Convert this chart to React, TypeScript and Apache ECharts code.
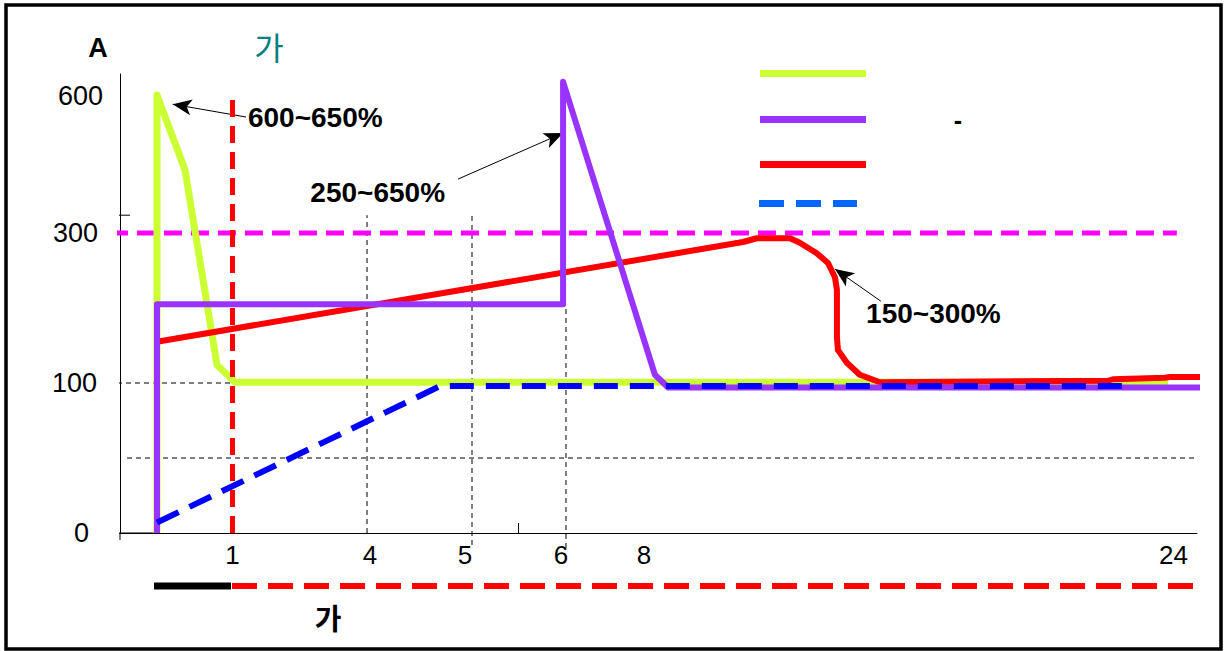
import React, { useEffect, useRef } from "react";
import * as echarts from "echarts";

// ---- scale definition (non-linear schematic axes) ----
const HOUR_KNOTS = [0, 1, 4, 5, 6, 8, 24];
const HOUR_SLOTS = [37, 112.5, 250, 345, 441, 524, 1053.5];
const AMP_KNOTS = [0, 100, 300, 600];
const AMP_SLOTS = [0, 150, 300, 437];
const X_TICK_HOURS = [1, 4, 5, 6, 8, 24];
const Y_TICK_AMPS = [0, 100, 300, 600];
const Y_LABEL_PAD = [14, 6, 5, 0];
const X_MINOR_TICK_HOUR = 5.55;

// ---- series data (hours, amps) ----
const GREEN_HOURS = [0, 0, 0.371, 0.795, 1.055, 23.84];
const GREEN_AMPS = [0, 602, 438, 124, 101, 101];

const RED_HOURS = [0, 0, 10.99, 11.41, 12.41, 12.71, 13.22, 13.56, 13.77, 13.83, 13.83, 13.86, 14.13, 14.52, 15.13, 22.02, 22.17, 23.74, 23.89, 25.59];
const RED_AMPS = [0, 155, 288, 293, 293, 287, 273, 260, 241, 224, 161, 144, 127, 111, 101, 103, 105, 107, 108, 108];

const PURPLE_HOURS = [0, 0, 6.05, 6.05, 8.33, 8.73, 25.59];
const PURPLE_AMPS = [0, 205, 205, 631, 111, 97, 97];

const BLUE_HOURS = [0, 4.74, 22.54];
const BLUE_AMPS = [7, 98, 98];

// reference lines
const RED_VLINE_HOURS = [1, 1];
const RED_VLINE_AMPS = [0, 604];
const MAGENTA_HOURS = [-0.623, 24.1];
const MAGENTA_AMPS = [300, 300];
const GRID_SEGMENTS: [number[], number[]][] = [
  [[-0.649, 1], [100, 100]],
  [[-0.397, 24.89], [50, 50]],
  [[3.935, 3.935], [0, 339]],
  [[5.073, 5.073], [-8, 339]],
  [[6.12, 6.12], [-10, 201]],
];
const AXIS_EXTRA_SEGMENTS: [number[], number[]][] = [
  [[-0.596, 0], [0, 0]],
  [[-0.49, -0.49], [0, -4.7]],
  [[-0.583, -0.358], [339, 339]],
];
const PHASE_BAR_AMP = -35.3;
const PHASE_BLACK_HOURS = [-0.04, 0.98];
const PHASE_RED_HOURS = [0.993, 24.71];

// annotations
const NOTE_TEXTS = ["600~650%", "250~650%", "150~300%"];
const NOTE_HOURS = [1.337, 4.79, 14.71];
const NOTE_AMPS = [552, 388, 193];
const NOTE_POS = ["right", "left", "right"];
const ARROW_FROM_HOURS = [1.295, 4.926, 15.16];
const ARROW_FROM_AMPS = [554, 418, 209];
const ARROW_TO_HOURS = [0.208, 6.05, 13.77];
const ARROW_TO_AMPS = [582, 519, 252];

function interp(v: number, ks: number[], ps: number[]) {
  let i = 0;
  while (i < ks.length - 2 && v > ks[i + 1]) i++;
  return ps[i] + ((v - ks[i]) * (ps[i + 1] - ps[i])) / (ks[i + 1] - ks[i]);
}
const xs = (h: number) => interp(h, HOUR_KNOTS, HOUR_SLOTS);
const ys = (a: number) => interp(a, AMP_KNOTS, AMP_SLOTS);
const pts = (hs: number[], as: number[]) => hs.map((h, i) => [xs(h), ys(as[i])]);

const FONT = "'Liberation Sans', Arial, sans-serif";
const KFONT = "'Noto Sans CJK KR', sans-serif";

function lineSeries(name: string, hs: number[], as: number[], color: string, width: number, type: any, z: number) {
  return {
    type: "line",
    name,
    data: pts(hs, as),
    symbol: "none",
    clip: false,
    silent: true,
    z,
    lineStyle: { color, width, type, cap: "butt", join: "round" },
  };
}

export default function App() {
  const ref = useRef<HTMLDivElement>(null);
  useEffect(() => {
    if (!ref.current) return;
    const chart = echarts.init(ref.current, undefined, { renderer: "svg" });
    const xLabelSlots = X_TICK_HOURS.map(xs);
    const yLabelSlots = Y_TICK_AMPS.map(ys);
    const yRich: any = {};
    Y_TICK_AMPS.forEach((a, i) => {
      yRich["p" + i] = { fontSize: 27, color: "#000", fontFamily: FONT, padding: [0, Y_LABEL_PAD[i], 0, 0] };
    });
    const series: any[] = [];
    GRID_SEGMENTS.forEach((s, i) => series.push(lineSeries("grid" + i, s[0], s[1], "#000", 1, [5, 4], 1)));
    AXIS_EXTRA_SEGMENTS.forEach((s, i) => series.push(lineSeries("axisx" + i, s[0], s[1], "#000", 1, "solid", 1)));
    series.push(lineSeries("magenta", MAGENTA_HOURS, MAGENTA_AMPS, "#ff00ff", 5, [18, 9], 2));
    series.push(lineSeries("green", GREEN_HOURS, GREEN_AMPS, "#ccff33", 7, "solid", 3));
    series.push(lineSeries("red", RED_HOURS, RED_AMPS, "#ff0000", 6, "solid", 4));
    series.push(lineSeries("purple", PURPLE_HOURS, PURPLE_AMPS, "#9933ff", 6, "solid", 5));
    series.push(lineSeries("blue", BLUE_HOURS, BLUE_AMPS, "#0000ff", 6, [24, 12], 6));
    series.push(lineSeries("redv", RED_VLINE_HOURS, RED_VLINE_AMPS, "#ff0000", 5, [17, 9], 7));
    series.push(lineSeries("phaseBlack", PHASE_BLACK_HOURS, [PHASE_BAR_AMP, PHASE_BAR_AMP], "#000", 7, "solid", 7));
    series.push(lineSeries("phaseRed", PHASE_RED_HOURS, [PHASE_BAR_AMP, PHASE_BAR_AMP], "#ff0000", 6, [25, 11], 7));
    series.push({
      type: "scatter",
      name: "notes",
      z: 8,
      silent: true,
      symbolSize: 0,
      itemStyle: { color: "#000", opacity: 1 },
      data: NOTE_TEXTS.map((t, i) => ({
        name: t,
        value: [xs(NOTE_HOURS[i]), ys(NOTE_AMPS[i])],
        label: {
          show: true,
          position: NOTE_POS[i],
          distance: 0,
          formatter: t,
          fontSize: 28,
          fontWeight: "bold",
          color: "#000",
          opacity: 1,
          textBorderWidth: 0,
          fontFamily: FONT,
        },
      })),
      markLine: {
        silent: true,
        animation: false,
        symbol: ["none", "arrow"],
        label: { show: false },
        lineStyle: { color: "#000", width: 1, type: "solid", opacity: 1 },
        data: ARROW_FROM_HOURS.map((h, i) => [
          { coord: [xs(h), ys(ARROW_FROM_AMPS[i])], symbol: "none" },
          { coord: [xs(ARROW_TO_HOURS[i]), ys(ARROW_TO_AMPS[i])], symbol: "arrow", symbolSize: [12, 19] },
        ]),
      },
    });

    const option: any = {
      animation: false,
      grid: { left: 120, right: 29, top: 74, bottom: 118, containLabel: false },
      xAxis: {
        type: "value",
        min: 0,
        max: 1077,
        axisLine: { show: true, onZero: false, lineStyle: { color: "#000", width: 1 } },
        splitLine: { show: false },
        axisTick: {
          show: true,
          inside: true,
          length: 10,
          customValues: [xs(X_MINOR_TICK_HOUR)],
          lineStyle: { color: "#000", width: 1 },
        },
        axisLabel: {
          customValues: xLabelSlots,
          formatter: (v: number) => {
            const i = xLabelSlots.findIndex((s) => Math.abs(s - v) < 0.5);
            return i >= 0 ? String(X_TICK_HOURS[i]) : "";
          },
          fontSize: 26,
          color: "#000",
          margin: 9,
          fontFamily: FONT,
        },
      },
      yAxis: {
        type: "value",
        min: 0,
        max: 459,
        axisLine: { show: true, onZero: false, lineStyle: { color: "#000", width: 1 } },
        splitLine: { show: false },
        axisTick: { show: false },
        axisLabel: {
          customValues: yLabelSlots,
          formatter: (v: number) => {
            const i = yLabelSlots.findIndex((s) => Math.abs(s - v) < 0.5);
            return i >= 0 ? `{p${i}|${Y_TICK_AMPS[i]}}` : "";
          },
          rich: yRich,
          fontSize: 27,
          color: "#000",
          margin: 17,
          fontFamily: FONT,
        },
      },
      graphic: [
        { type: "text", x: 98, y: 48, z: 10, style: { text: "A", font: `bold 27px ${FONT}`, fill: "#000", align: "center", verticalAlign: "middle" } },
        { type: "text", x: 269, y: 46, z: 10, style: { text: "가", font: `32px ${KFONT}`, fill: "#008080", align: "center", verticalAlign: "middle" } },
        { type: "text", x: 328, y: 617, z: 10, style: { text: "가", font: `bold 29px ${KFONT}`, fill: "#000", align: "center", verticalAlign: "middle" } },
        { type: "line", z: 10, shape: { x1: 760, y1: 73.5, x2: 866, y2: 73.5 }, style: { stroke: "#ccff33", lineWidth: 7 } },
        { type: "line", z: 10, shape: { x1: 760, y1: 119.5, x2: 866, y2: 119.5 }, style: { stroke: "#9933ff", lineWidth: 7 } },
        { type: "line", z: 10, shape: { x1: 760, y1: 164.5, x2: 866, y2: 164.5 }, style: { stroke: "#ff0000", lineWidth: 7 } },
        { type: "line", z: 10, shape: { x1: 759, y1: 203.5, x2: 857, y2: 203.5 }, style: { stroke: "#0066ff", lineWidth: 7, lineDash: [25, 12] } },
        { type: "text", x: 958, y: 120, z: 10, style: { text: "-", font: `bold 25px ${FONT}`, fill: "#000", align: "center", verticalAlign: "middle" } },
        { type: "rect", z: 20, shape: { x: 6, y: 5, width: 1215, height: 644 }, style: { fill: "none", stroke: "#000", lineWidth: 3.5 } },
      ],
      series,
    };
    chart.setOption(option);
    return () => chart.dispose();
  }, []);
  return (
    <div
      ref={ref}
      style={{ position: "fixed", left: 0, top: 0, width: 1226, height: 651, background: "#fff" }}
    />
  );
}
